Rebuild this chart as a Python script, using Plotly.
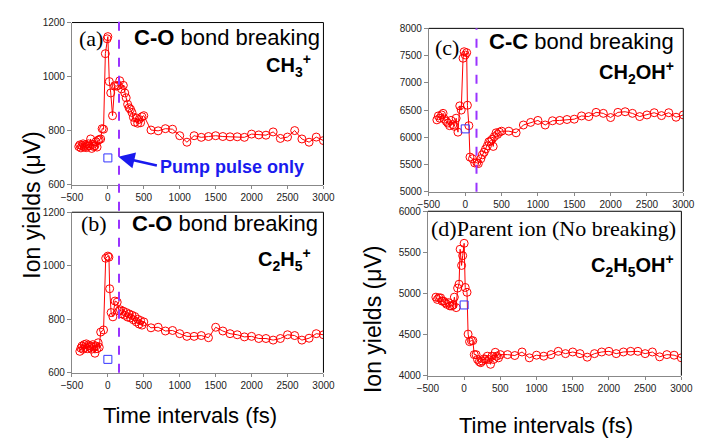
import plotly.graph_objects as go

# ---------------- data ----------------
tA = [-405, -390, -375, -360, -345, -330, -315, -300, -285, -270, -255, -240, -225, -210, -195, -180,
      -165, -150, -135, -120, -100, -80, -60, -35, -10, 0, 20, 40, 65, 95, 120, 145, 165, 190, 215,
      235, 255, 275, 295, 315, 335, 355, 375, 395, 415, 435, 455, 475, 500, 600, 700, 800, 900, 1000,
      1100, 1200, 1300, 1400, 1500, 1600, 1700, 1800, 1900, 2000, 2100, 2200, 2300, 2400, 2500, 2600,
      2700, 2800, 2900, 3000]
vA = [742, 748, 737, 745, 752, 740, 748, 738, 744, 752, 745, 770, 735, 750, 742, 745,
      760, 740, 765, 768, 770, 808, 806, 1085, 1140, 1148, 982, 940, 856, 967, 965, 968, 985, 955, 968,
      940, 922, 898, 885, 880, 868, 850, 832, 848, 828, 842, 830, 852, 856, 803, 800, 808, 806, 782,
      758, 782, 776, 779, 782, 779, 778, 778, 776, 788, 785, 784, 796, 772, 777, 801,
      770, 758, 777, 764]

tB = [-390, -375, -360, -345, -330, -315, -300, -285, -270, -255, -240, -225, -210, -195, -180, -165,
      -150, -135, -120, -100, -60, -30, 0, 15, 25, 45, 70, 100, 130, 155, 175, 195, 215, 235, 255, 275,
      295, 315, 335, 355, 375, 395, 415, 435, 455, 475, 500, 600, 700, 800, 900, 1000, 1100, 1200,
      1300, 1400, 1500, 1600, 1700, 1800, 1900, 2000, 2100, 2200, 2300, 2400, 2500, 2600, 2700, 2800,
      2900, 3000]
vB = [680, 692, 700, 688, 705, 695, 708, 690, 702, 695, 700, 688, 705, 695, 673, 700,
      690, 712, 695, 752, 760, 1028, 1036, 1032, 914, 825, 809, 868, 864, 831, 835, 820, 830, 815, 825, 808,
      820, 805, 815, 798, 810, 790, 800, 782, 795, 778, 790, 768, 770, 756, 758, 746, 736, 736,
      739, 731, 770, 756, 746, 742, 734, 736, 728, 728, 722, 728, 742, 739, 722, 729,
      746, 742]

tC = [-390, -370, -350, -325, -305, -285, -260, -240, -215, -195, -170, -150, -125, -100, -75, -55,
      -30, -15, 0, 20, 30, 50, 65, 100, 130, 160, 180, 215, 235, 260, 280, 305, 325, 350, 370, 385,
      400, 425, 445, 470, 500, 600, 700, 800, 900, 1000, 1100, 1200, 1300, 1400, 1500, 1600, 1700,
      1800, 1900, 2000, 2100, 2200, 2300, 2400, 2500, 2600, 2700, 2800, 2900, 3000]
vC = [6321, 6393, 6351, 6411, 6440, 6333, 6292, 6262, 6214, 6310, 6232, 6202, 6351, 6095, 6577, 6500,
      7452, 7571, 7512, 7554, 6589, 6214, 5637, 5607, 5530, 5536, 5518, 5607, 5679, 5726, 5786, 5845,
      5917, 5935, 5964, 5833, 6012, 6083, 6054, 6095, 6113, 6113, 6083, 6226, 6274, 6310, 6226, 6304,
      6310, 6327, 6333, 6393, 6381, 6458, 6440, 6363, 6458, 6470, 6440, 6381, 6411, 6452, 6399, 6452,
      6369, 6411]

tD = [-390, -370, -350, -325, -305, -285, -260, -240, -215, -195, -170, -150, -135, -110, -90, -70,
      -55, -35, -20, 0, 15, 40, 55, 75, 100, 120, 140, 165, 185, 210, 230, 250, 275, 295, 320, 340,
      365, 385, 405, 430, 450, 475, 500, 600, 700, 800, 900, 1000, 1100, 1200, 1300, 1400, 1500, 1600,
      1700, 1800, 1900, 2000, 2100, 2200, 2300, 2400, 2500, 2600, 2700, 2800, 2900, 3000]
vD = [4955, 4927, 4947, 4947, 4907, 4907, 4888, 4868, 4888, 4848, 4848, 4860, 4955, 4828, 5065, 5112,
      5538, 5341, 5460, 5610, 5073, 5014, 4505, 4414, 4426, 4426, 4256, 4256, 4197, 4170, 4158, 4177,
      4205, 4197, 4237, 4197, 4138, 4237, 4197, 4284, 4237, 4217, 4256, 4256, 4245, 4288, 4217, 4249,
      4237, 4256, 4296, 4268, 4288, 4268, 4225, 4268, 4288, 4296, 4268, 4288, 4296, 4296, 4268, 4288,
      4229, 4256, 4249, 4217]

pump_t = [0, 0, 0, 0]
pump_v = [700, 650, 6155, 4860]

pulse_t = 155  # dashed line position (fs)

x_ticks = [-500, 0, 500, 1000, 1500, 2000, 2500, 3000]
y_ticks_ab = [600, 800, 1000, 1200]
y_ticks_c = [5000, 5500, 6000, 6500, 7000, 7500, 8000]
y_ticks_d = [4000, 4500, 5000, 5500, 6000]

# ---------------- layout helpers ----------------
W, H = 704, 441
def px(x):
    return x / W
def py(y):
    return 1 - y / H

boxes = {  # left, right, top, bottom in pixels
    "a": (63, 323, 17, 184),
    "b": (63, 323, 212, 377),
    "c": (432, 695, 23, 191),
    "d": (431, 693, 211, 380),
}

red = "#ff0000"
fig = go.Figure()

series = [("a", tA, vA, "", ""), ("b", tB, vB, "2", "2"),
          ("c", tC, vC, "3", "3"), ("d", tD, vD, "4", "4")]
for i, (k, t, v, xs, ys) in enumerate(series):
    fig.add_trace(go.Scatter(
        x=t, y=v, mode="lines+markers", xaxis="x" + xs, yaxis="y" + ys,
        line=dict(color=red, width=1),
        marker=dict(symbol="circle-open", size=8, color=red, line=dict(width=1)),
        showlegend=False, hoverinfo="skip"))
    fig.add_trace(go.Scatter(
        x=[pump_t[i]], y=[pump_v[i]], mode="markers", xaxis="x" + xs, yaxis="y" + ys,
        marker=dict(symbol="square-open", size=8, color="#3333ff", line=dict(width=1)),
        showlegend=False, hoverinfo="skip"))

tickfont = dict(family="Liberation Sans, Arial", size=10, color="#222")
axis_common = dict(showline=True, linecolor="#888", linewidth=1, ticks="outside", ticklen=4,
                   tickcolor="#888", showgrid=False, zeroline=False, tickfont=tickfont, mirror=False)

yranges = {"a": [600, 1200], "b": [600, 1200], "c": [5000, 8000], "d": [4000, 6000]}
yticks = {"a": y_ticks_ab, "b": y_ticks_ab, "c": y_ticks_c, "d": y_ticks_d}
names = {"a": "", "b": "2", "c": "3", "d": "4"}
shapes = []
for k, (l, r, t, b) in boxes.items():
    n = names[k]
    fig.layout["xaxis" + n] = dict(axis_common, domain=[px(l), px(r)], range=[-500, 3000],
                                   tickvals=x_ticks, anchor="y" + n, ticklen=3)
    fig.layout["yaxis" + n] = dict(axis_common, domain=[py(b), py(t)], range=yranges[k],
                                   tickvals=yticks[k], anchor="x" + n)
    # black top and right frame lines
    shapes.append(dict(type="line", xref="paper", yref="paper", x0=px(l), x1=px(r), y0=py(t), y1=py(t),
                       line=dict(color="black", width=1)))
    shapes.append(dict(type="line", xref="paper", yref="paper", x0=px(r), x1=px(r), y0=py(t), y1=py(b),
                       line=dict(color="black", width=1)))

# dashed pulse lines
shapes.append(dict(type="line", xref="x", yref="paper", x0=pulse_t, x1=pulse_t,
                   y0=py(boxes["b"][3]), y1=py(10), line=dict(color="#9933ff", width=2, dash="dash")))
shapes.append(dict(type="line", xref="x3", yref="paper", x0=pulse_t, x1=pulse_t,
                   y0=py(boxes["c"][3]), y1=py(boxes["c"][2]), line=dict(color="#9933ff", width=2, dash="dash")))

ann = []
def txt(x, y, s, size, xanchor="center", family="Liberation Sans, Arial", color="black", angle=0):
    ann.append(dict(x=px(x), y=py(y), xref="paper", yref="paper", text=s, showarrow=False,
                    xanchor=xanchor, yanchor="middle", textangle=angle, borderpad=0,
                    font=dict(family=family, size=size, color=color)))

serif = "Liberation Serif, Times New Roman"
txt(69, 33, "(a)", 22, "left", serif)
txt(320, 32, "<b>C-O</b> bond breaking", 22, "right")
txt(311, 61, "<b>CH<sub>3</sub><sup>+</sup></b>", 20, "right")
txt(153, 166, "<b>Pump pulse only</b>", 18, "left", color="#1a1aee")

txt(71, 224, "(b)", 22, "left", serif)
txt(318, 224, "<b>C-O</b> bond breaking", 22, "right")
txt(311, 261, "<b>C<sub>2</sub>H<sub>5</sub><sup>+</sup></b>", 20, "right")

txt(437, 43, "(c)", 22, "left", serif)
txt(686, 36, "<b>C-C</b> bond breaking", 22, "right")
txt(686, 68, "<b>CH<sub>2</sub>OH<sup>+</sup></b>", 20, "right")

txt(433, 229, "(d)Parent ion (No breaking)", 22, "left", serif)
txt(686, 267, "<b>C<sub>2</sub>H<sub>5</sub>OH<sup>+</sup></b>", 20, "right")

txt(185, 421, "Time intervals (fs)", 22)
txt(553, 431, "Time intervals (fs)", 22)
txt(22, 205, "Ion yields (\u03bcV)", 23, angle=-90)
txt(374, 322, "Ion yields (\u03bcV)", 23, angle=-90)

# arrow for pump pulse
ann.append(dict(x=px(111), y=py(155), xref="paper", yref="paper", ax=40, ay=9, text="",
                showarrow=True, arrowhead=2, arrowsize=1.3, arrowwidth=2.5, arrowcolor="#1a1aee"))

fig.update_layout(width=W, height=H, margin=dict(l=0, r=0, t=0, b=0),
                  plot_bgcolor="white", paper_bgcolor="white",
                  shapes=shapes, annotations=ann)

fig.write_html("out.html")
